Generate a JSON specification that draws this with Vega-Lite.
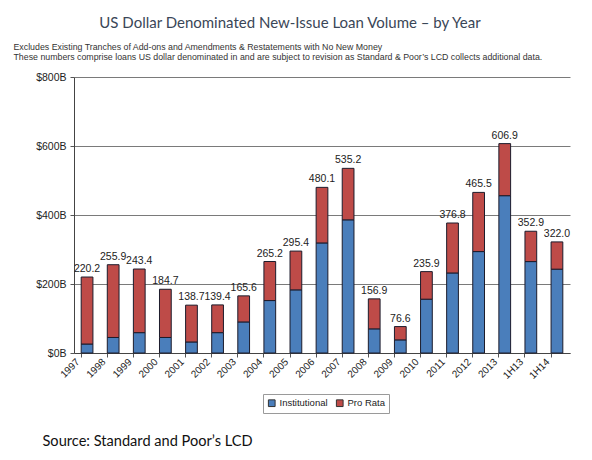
{
  "$schema": "https://vega.github.io/schema/vega-lite/v6.json",
  "width": 496,
  "height": 276,
  "autosize": {"type": "none"},
  "padding": {"left": 74, "top": 77, "right": 22, "bottom": 107},
  "background": "white",
  "title": {
    "text": "US Dollar Denominated New-Issue Loan Volume – by Year",
    "anchor": "middle",
    "frame": "group",
    "dx": -32,
    "offset": 11,
    "font": "Lato",
    "fontSize": 15,
    "fontWeight": "normal",
    "color": "#3a4657"
  },
  "data": {
    "values": [
      {"year": "1997", "Institutional": 26, "Pro Rata": 194.2, "total": 220.2},
      {"year": "1998", "Institutional": 45, "Pro Rata": 210.9, "total": 255.9},
      {"year": "1999", "Institutional": 59, "Pro Rata": 184.4, "total": 243.4},
      {"year": "2000", "Institutional": 45, "Pro Rata": 139.7, "total": 184.7},
      {"year": "2001", "Institutional": 32, "Pro Rata": 106.7, "total": 138.7},
      {"year": "2002", "Institutional": 59, "Pro Rata": 80.4, "total": 139.4},
      {"year": "2003", "Institutional": 90, "Pro Rata": 75.6, "total": 165.6},
      {"year": "2004", "Institutional": 152, "Pro Rata": 113.2, "total": 265.2},
      {"year": "2005", "Institutional": 183, "Pro Rata": 112.4, "total": 295.4},
      {"year": "2006", "Institutional": 319, "Pro Rata": 161.1, "total": 480.1},
      {"year": "2007", "Institutional": 386, "Pro Rata": 149.2, "total": 535.2},
      {"year": "2008", "Institutional": 70, "Pro Rata": 86.9, "total": 156.9},
      {"year": "2009", "Institutional": 38, "Pro Rata": 38.6, "total": 76.6},
      {"year": "2010", "Institutional": 156, "Pro Rata": 79.9, "total": 235.9},
      {"year": "2011", "Institutional": 232, "Pro Rata": 144.8, "total": 376.8},
      {"year": "2012", "Institutional": 294, "Pro Rata": 171.5, "total": 465.5},
      {"year": "2013", "Institutional": 456, "Pro Rata": 150.9, "total": 606.9},
      {"year": "1H13", "Institutional": 265, "Pro Rata": 87.9, "total": 352.9},
      {"year": "1H14", "Institutional": 243, "Pro Rata": 79.0, "total": 322.0}
    ]
  },
  "encoding": {
    "x": {
      "field": "year",
      "type": "nominal",
      "sort": null,
      "scale": {"paddingInner": 0.55, "paddingOuter": 0.275},
      "axis": {
        "title": "Source: Standard and Poor’s LCD",
        "titleX": -32,
        "titleY": 88,
        "titleAlign": "left",
        "titleBaseline": "middle",
        "titleFont": "Lato",
        "titleFontSize": 14.6,
        "titleFontWeight": "normal",
        "titleColor": "#111111",
        "bandPosition": 0,
        "labelAngle": -45,
        "labelAlign": "right",
        "labelBaseline": "middle",
        "labelOffset": -9,
        "labelPadding": 3,
        "labelFont": "Liberation Sans",
        "labelFontSize": 10,
        "labelColor": "#222222",
        "tickSize": 4,
        "tickColor": "#555555",
        "domainColor": "#444444",
        "grid": false
      }
    }
  },
  "layer": [
    {
      "transform": [{"fold": ["Institutional", "Pro Rata"], "as": ["type", "value"]}],
      "mark": {"type": "bar", "stroke": "#1c1c2c", "strokeWidth": 1},
      "encoding": {
        "y": {
          "field": "value",
          "type": "quantitative",
          "stack": "zero",
          "scale": {"domain": [0, 800]},
          "axis": {
            "values": [0, 200, 400, 600, 800],
            "labelExpr": "'$' + datum.value + 'B'",
            "labelFont": "Liberation Sans",
            "labelFontSize": 10.5,
            "labelColor": "#222222",
            "labelPadding": 4,
            "tickSize": 4,
            "tickColor": "#555555",
            "domainColor": "#444444",
            "gridColor": "#7a7a7a",
            "gridWidth": 1,
            "title": [
              "Excludes Existing Tranches of Add-ons and Amendments & Restatements with No New Money",
              "These numbers comprise loans US dollar denominated in and are subject to revision as Standard & Poor’s LCD collects additional data."
            ],
            "titleAngle": 0,
            "titleX": -61,
            "titleY": -35,
            "titleAlign": "left",
            "titleBaseline": "top",
            "titleFont": "Liberation Sans",
            "titleFontSize": 8.8,
            "titleFontWeight": "normal",
            "titleLineHeight": 10,
            "titleColor": "#333333"
          }
        },
        "color": {
          "field": "type",
          "type": "nominal",
          "scale": {"domain": ["Institutional", "Pro Rata"], "range": ["#4a7ebb", "#be4b48"]},
          "legend": {
            "title": null,
            "orient": "none",
            "legendX": 189,
            "legendY": 317,
            "direction": "horizontal",
            "strokeColor": "#9a9a9a",
            "padding": 4,
            "symbolType": "square",
            "symbolSize": 45,
            "symbolStrokeColor": "#333333",
            "symbolStrokeWidth": 1,
            "labelFont": "Liberation Sans",
            "labelFontSize": 9.5,
            "labelColor": "#222222",
            "columnPadding": 6,
            "labelOffset": 3
          }
        },
        "order": {"field": "type", "sort": "ascending"}
      }
    },
    {
      "mark": {"type": "text", "baseline": "bottom", "dy": -3, "font": "Liberation Sans", "fontSize": 10.5, "color": "#222222"},
      "encoding": {
        "y": {"field": "total", "type": "quantitative"},
        "text": {"field": "total", "type": "quantitative", "format": ".1f"}
      }
    }
  ],
  "config": {"view": {"stroke": null}}
}
